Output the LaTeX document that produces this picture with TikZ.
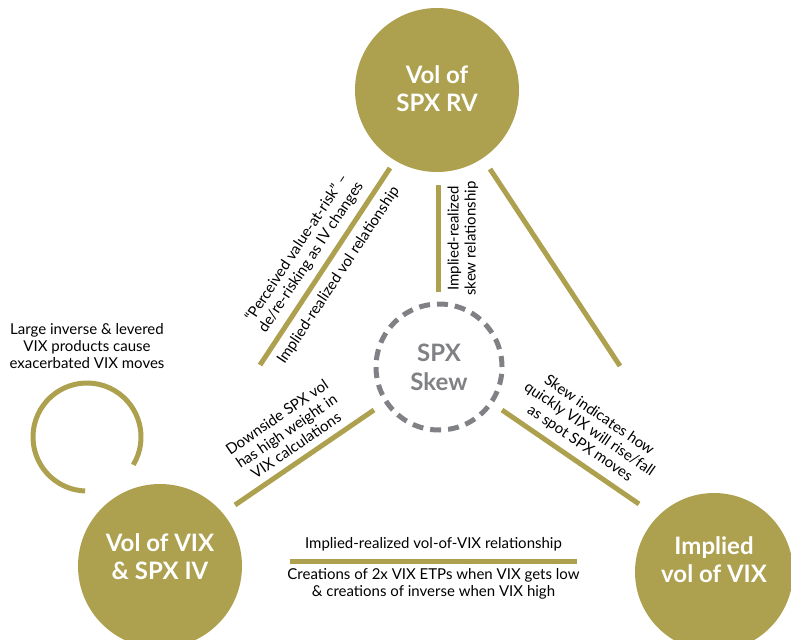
\documentclass[tikz,border=0pt]{standalone}
\usepackage{fontspec}
\setmainfont{Lato}
\usetikzlibrary{positioning}
\definecolor{vgold}{RGB}{173,161,80}
\definecolor{skewgray}{RGB}{128,129,132}
\tikzstyle{hub} = [circle, fill=vgold, minimum size=164pt, inner sep=0pt]
\tikzstyle{hubtext} = [text=white, align=center, inner sep=0pt, font=\fontsize{24}{28}\selectfont\bfseries]
\tikzstyle{skewhub} = [circle, draw=skewgray, line width=5pt, dash pattern=on 11pt off 7pt, minimum size=126pt, inner sep=0pt, text=skewgray, align=center, font=\fontsize{24}{29}\selectfont\bfseries]
\tikzstyle{link} = [line width=5pt, draw=vgold]
\tikzstyle{note} = [align=center, font=\fontsize{15}{17}\selectfont, text=black, inner sep=2pt]

\begin{document}
\begin{tikzpicture}[x=1pt, y=-1pt]
\useasboundingbox (0,0) rectangle (791,639);
\node (rv) [hub, label={[hubtext, yshift=1pt]center:{Vol of\\SPX RV}}] at (437,90) {};
\node (vvix) [hub, label={[hubtext, yshift=9pt]center:{Vol of VIX\\\& SPX IV}}] at (160,566) {};
\node (ivix) [hub, minimum size=158pt, label={[hubtext, yshift=12pt]center:{Implied\\vol of VIX}}] at (714,572) {};
\node (skew) [skewhub] at (439,367) {SPX\\Skew};

% end points of the links
\coordinate (rvl) at (390,168);
\coordinate (skl) at (260,365);
\coordinate (rvm) at (438,185);
\coordinate (skm) at (438,292);
\coordinate (rvr) at (490,169);
\coordinate (ivt) at (620,366);
\coordinate (vvr) at (235,505);
\coordinate (sklo) at (374,410);
\coordinate (skro) at (502,410);
\coordinate (ivl) at (639,504);
\coordinate (vvb) at (290,561);
\coordinate (ivb) at (577,561);
\coordinate (loop) at (87,437);

\draw [link] (skl) -- (rvl)
  node [note, midway, sloped, above=5pt] {“Perceived value-at-risk” –\\de/re-risking as IV changes}
  node [note, midway, sloped, below=5pt] {Implied-realized vol relationship};
\draw [link] (skm) -- (rvm)
  node [note, midway, sloped, below=5pt] {Implied-realized\\skew relationship};
\draw [link] (rvr) -- (ivt);
\draw [link] (vvr) -- (sklo)
  node [note, midway, sloped, above=5pt] {Downside SPX vol\\has high weight in\\VIX calculations};
\draw [link] (skro) -- (ivl)
  node [note, midway, sloped, above=5pt] {Skew indicates how\\quickly VIX will rise/fall\\as spot SPX moves};
\draw [link] (vvb) -- (ivb)
  node [note, midway, above=5pt] {Implied-realized vol-of-VIX relationship}
  node [note, midway, below=3pt] {Creations of 2x VIX ETPs when VIX gets low\\\& creations of inverse when VIX high};

% self loop
\draw [link] (loop) ++(31:54) arc [start angle=31, end angle=-268, radius=54];
\node (loopnote) [note] at (87,346) {Large inverse \& levered\\VIX products cause\\exacerbated VIX moves};

\end{tikzpicture}
\end{document}
